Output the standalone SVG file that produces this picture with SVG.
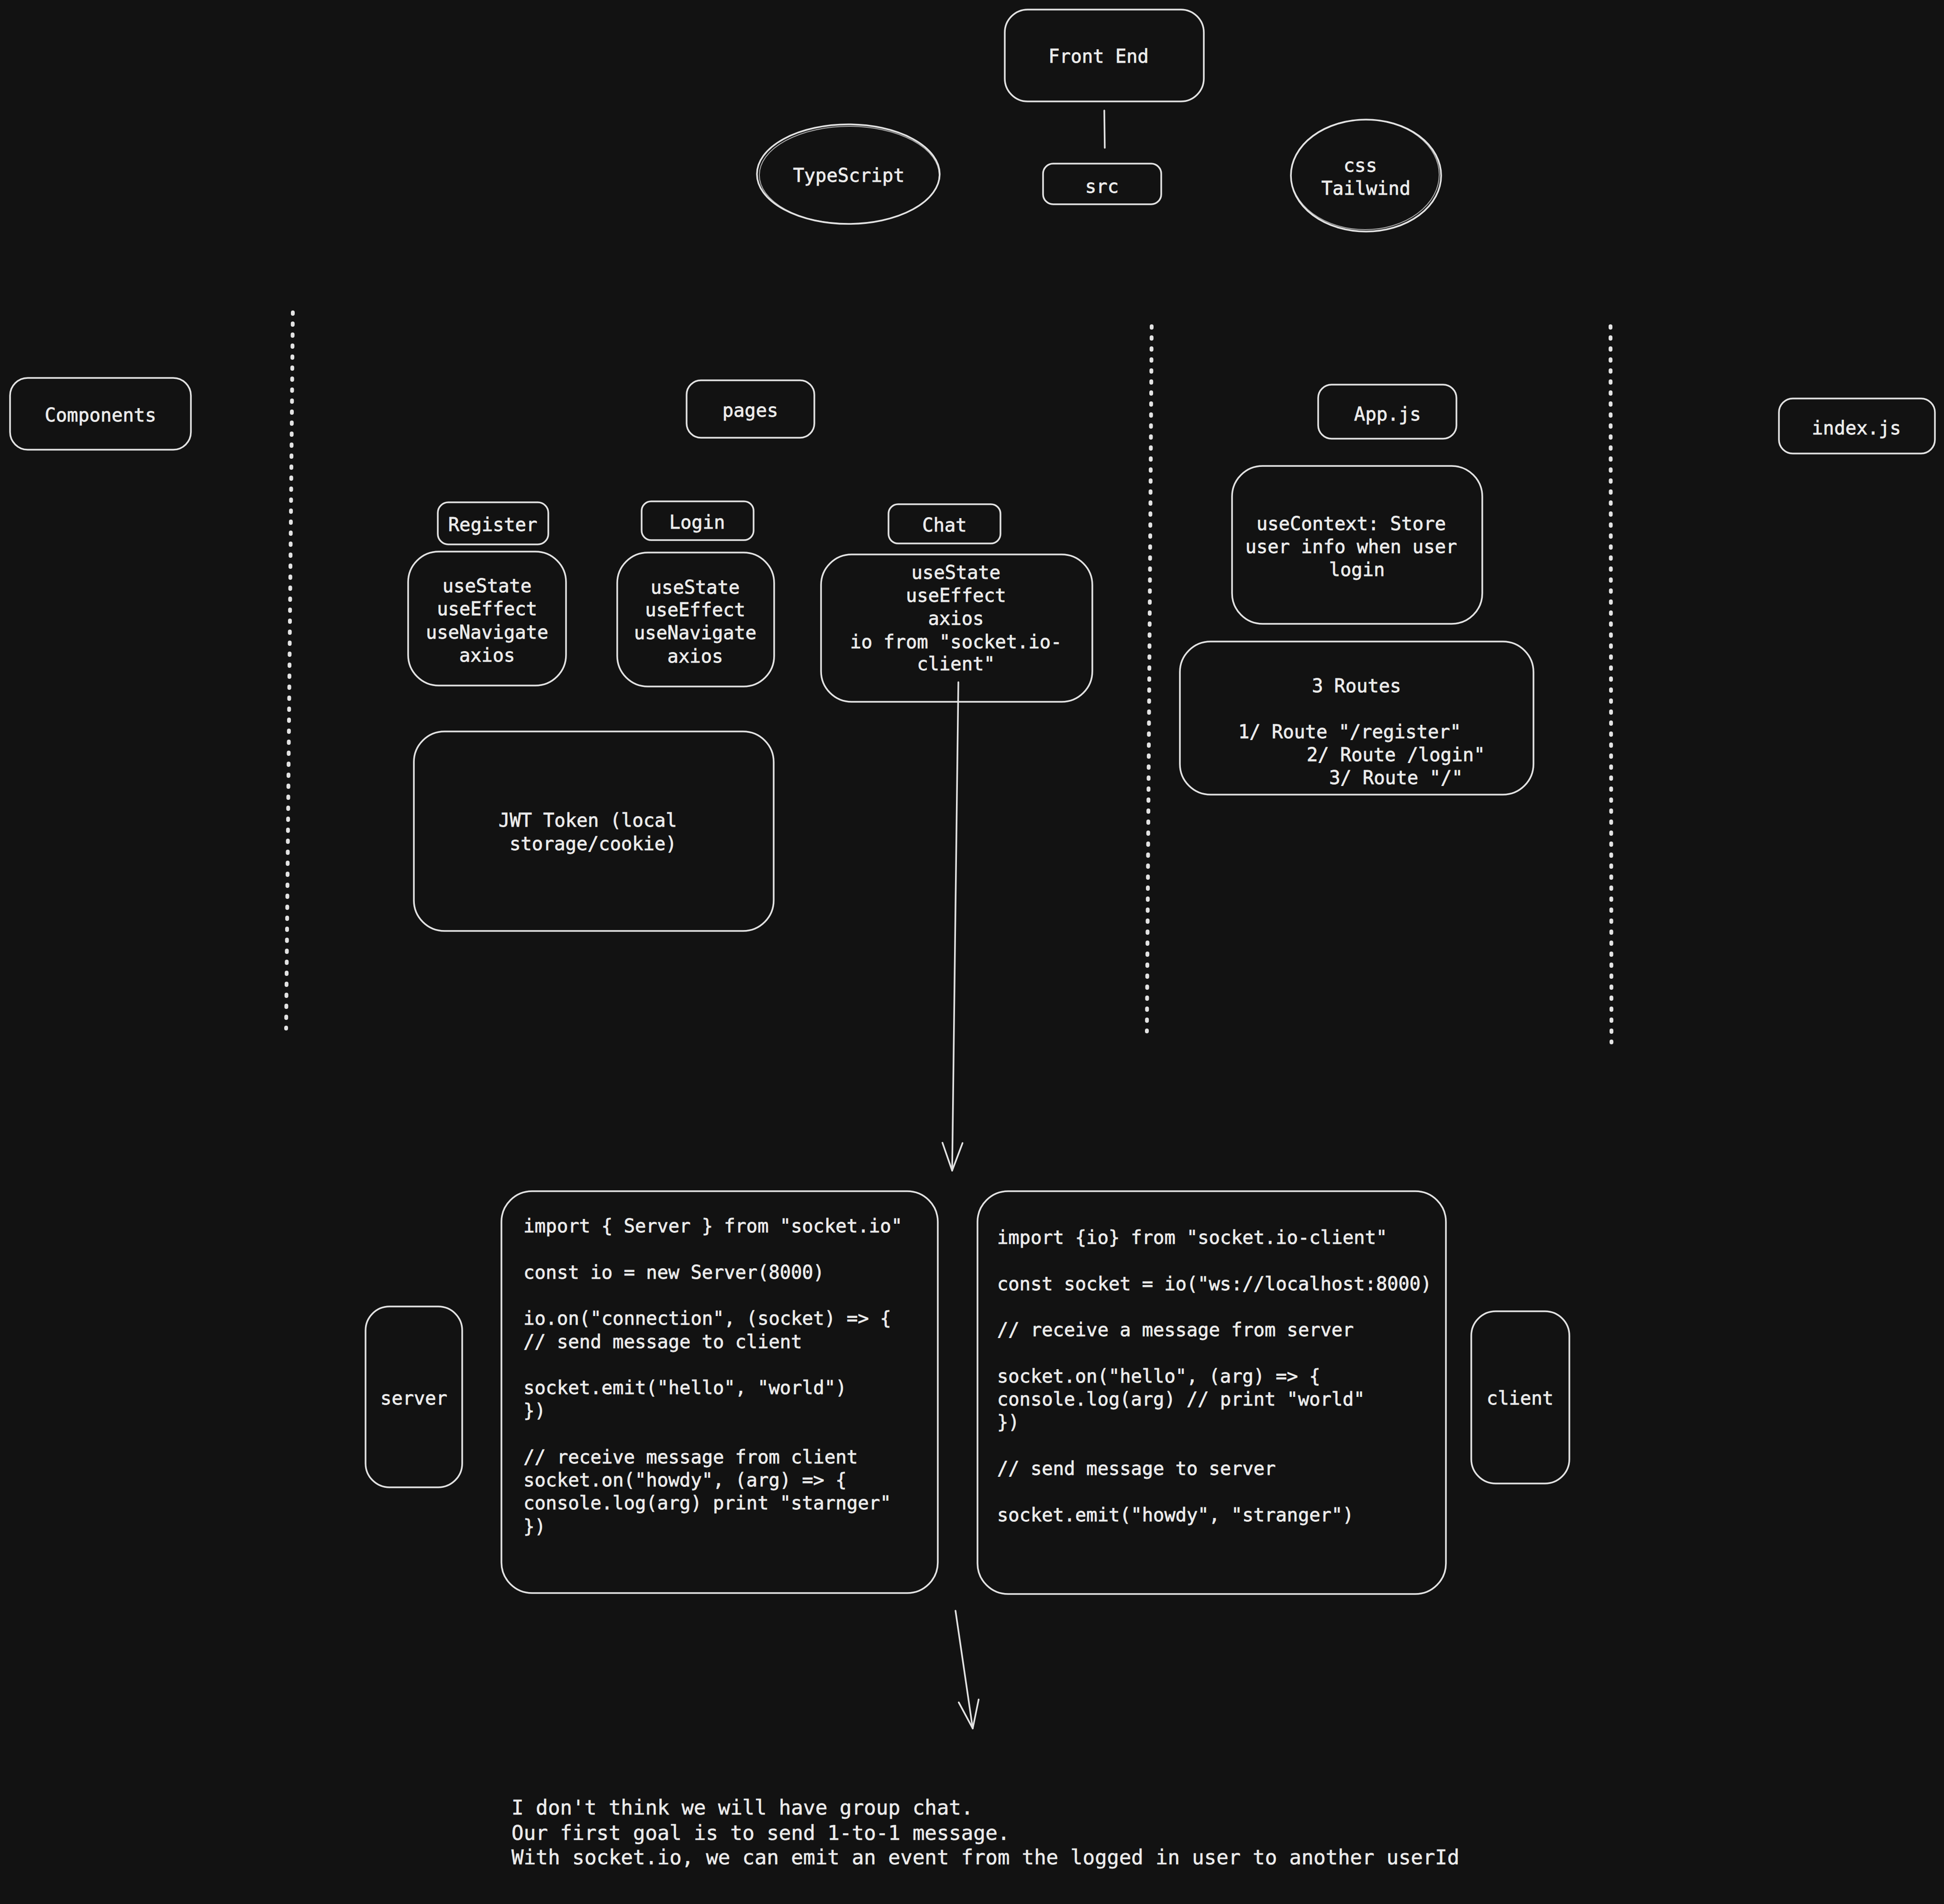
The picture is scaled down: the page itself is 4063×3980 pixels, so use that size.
<svg xmlns="http://www.w3.org/2000/svg" width="4063" height="3980" viewBox="0 0 4063 3980">
<defs>
<style>
.bg{fill:#121212}
.s{fill:none;stroke:#e3e3e3;stroke-width:3.5;stroke-linecap:round;stroke-linejoin:round}
.s2{fill:none;stroke:#e3e3e3;stroke-width:2;opacity:0.7}
.dot{fill:none;stroke:#e3e3e3;stroke-width:8;stroke-linecap:round;stroke-dasharray:3 20}
.t{font-family:"DejaVu Sans Mono","Liberation Mono",monospace;font-size:38.7px;fill:#ececec;stroke:#ececec;stroke-width:0.8px}
.m{text-anchor:middle}
.b{font-family:"DejaVu Sans Mono","Liberation Mono",monospace;font-size:42.2px;fill:#ececec;stroke:#ececec;stroke-width:0.6px}
</style>
<marker id="arr" markerUnits="userSpaceOnUse" markerWidth="90" markerHeight="70" viewBox="-75 -35 90 70" refX="0" refY="0" orient="auto">
<path d="M-58 -21 L0 0 L-58 21" fill="none" stroke="#e3e3e3" stroke-width="3.5" stroke-linecap="round" stroke-linejoin="round"/>
</marker>
</defs>
<rect class="bg" x="0" y="0" width="4063" height="3980"/>

<g id="dividers">
<line class="dot" x1="612" y1="653" x2="598" y2="2150"/>
<line class="dot" x1="2407" y1="682" x2="2397" y2="2156"/>
<line class="dot" x1="3366" y1="682" x2="3368" y2="2179"/>
</g>

<g id="connectors">
<line class="s" x1="2308" y1="231" x2="2309" y2="309"/>
<line class="s" x1="2003" y1="1426" x2="1990" y2="2447" marker-end="url(#arr)"/>
<line class="s" x1="1997" y1="3367" x2="2033" y2="3613" marker-end="url(#arr)"/>
</g>

<g id="front-end">
<rect class="s" x="2100" y="20" width="416" height="192" rx="48"/>
<text class="t m" x="2296" y="131">Front End</text>
</g>
<g id="typescript">
<ellipse class="s" cx="1773" cy="364" rx="191" ry="104"/>
<ellipse class="s2" cx="1775" cy="366" rx="188" ry="102"/>
<text class="t m" x="1774" y="380">TypeScript</text>
</g>
<g id="src">
<rect class="s" x="2180" y="342" width="247" height="85" rx="21"/>
<text class="t m" x="2303" y="403">src</text>
</g>
<g id="css-tailwind">
<ellipse class="s" cx="2855" cy="367" rx="157" ry="117"/>
<ellipse class="s2" cx="2853" cy="365" rx="155" ry="115"/>
<text class="t m" x="2843" y="359">css</text>
<text class="t m" x="2855" y="407">Tailwind</text>
</g>

<g id="components">
<rect class="s" x="21" y="790" width="378" height="150" rx="37"/>
<text class="t m" x="210" y="881">Components</text>
</g>
<g id="pages">
<rect class="s" x="1435" y="795" width="267" height="120" rx="30"/>
<text class="t m" x="1568" y="871">pages</text>
</g>
<g id="app-js">
<rect class="s" x="2755" y="804" width="289" height="113" rx="28"/>
<text class="t m" x="2900" y="879">App.js</text>
</g>
<g id="index-js">
<rect class="s" x="3718" y="833" width="326" height="115" rx="29"/>
<text class="t m" x="3880" y="908">index.js</text>
</g>

<g id="use-context">
<rect class="s" x="2575" y="974" width="523" height="330" rx="64"/>
<text class="t m" x="2824" y="1108">useContext: Store</text>
<text class="t m" x="2824" y="1156">user info when user</text>
<text class="t m" x="2836" y="1204">login</text>
</g>
<g id="routes">
<rect class="s" x="2466" y="1341" width="739" height="320" rx="64"/>
<text class="t" x="2742" y="1447">3 Routes</text>
<text class="t" x="2588" y="1543">1/ Route "/register"</text>
<text class="t" x="2731" y="1591">2/ Route /login"</text>
<text class="t" x="2778" y="1639">3/ Route "/"</text>
</g>

<g id="register">
<rect class="s" x="915" y="1050" width="231" height="88" rx="22"/>
<text class="t m" x="1030" y="1110">Register</text>
</g>
<g id="login">
<rect class="s" x="1341" y="1048" width="234" height="81" rx="20"/>
<text class="t m" x="1457" y="1105">Login</text>
</g>
<g id="chat">
<rect class="s" x="1857" y="1054" width="234" height="82" rx="20"/>
<text class="t m" x="1974" y="1111">Chat</text>
</g>

<g id="register-hooks">
<rect class="s" x="853" y="1153" width="330" height="280" rx="64"/>
<text class="t m" x="1018" y="1238">useState</text>
<text class="t m" x="1018" y="1286">useEffect</text>
<text class="t m" x="1018" y="1335">useNavigate</text>
<text class="t m" x="1018" y="1383">axios</text>
</g>
<g id="login-hooks">
<rect class="s" x="1290" y="1155" width="328" height="280" rx="64"/>
<text class="t m" x="1453" y="1241">useState</text>
<text class="t m" x="1453" y="1288">useEffect</text>
<text class="t m" x="1453" y="1336">useNavigate</text>
<text class="t m" x="1453" y="1385">axios</text>
</g>
<g id="chat-hooks">
<rect class="s" x="1716" y="1159" width="567" height="308" rx="64"/>
<text class="t m" x="1998" y="1210">useState</text>
<text class="t m" x="1998" y="1258">useEffect</text>
<text class="t m" x="1998" y="1306">axios</text>
<text class="t m" x="1998" y="1355">io from "socket.io-</text>
<text class="t m" x="1998" y="1401">client"</text>
</g>
<g id="jwt">
<rect class="s" x="865" y="1529" width="752" height="417" rx="64"/>
<text class="t" x="1042" y="1728">JWT Token (local</text>
<text class="t" x="1065" y="1777">storage/cookie)</text>
</g>

<g id="server">
<rect class="s" x="764" y="2731" width="202" height="378" rx="50"/>
<text class="t m" x="865" y="2936">server</text>
</g>
<g id="client">
<rect class="s" x="3075" y="2741" width="205" height="360" rx="51"/>
<text class="t m" x="3177" y="2936">client</text>
</g>

<g id="server-code">
<rect class="s" x="1048" y="2490" width="912" height="840" rx="64"/>
<text class="t" x="1094" y="2576">import { Server } from "socket.io"</text>
<text class="t" x="1094" y="2673">const io = new Server(8000)</text>
<text class="t" x="1094" y="2769">io.on("connection", (socket) =&gt; {</text>
<text class="t" x="1094" y="2818">// send message to client</text>
<text class="t" x="1094" y="2914">socket.emit("hello", "world")</text>
<text class="t" x="1094" y="2962">})</text>
<text class="t" x="1094" y="3059">// receive message from client</text>
<text class="t" x="1094" y="3107">socket.on("howdy", (arg) =&gt; {</text>
<text class="t" x="1094" y="3155">console.log(arg) print "starnger"</text>
<text class="t" x="1094" y="3204">})</text>
</g>
<g id="client-code">
<rect class="s" x="2043" y="2490" width="979" height="842" rx="64"/>
<text class="t" x="2084" y="2600">import {io} from "socket.io-client"</text>
<text class="t" x="2084" y="2697">const socket = io("ws://localhost:8000)</text>
<text class="t" x="2084" y="2793">// receive a message from server</text>
<text class="t" x="2084" y="2890">socket.on("hello", (arg) =&gt; {</text>
<text class="t" x="2084" y="2938">console.log(arg) // print "world"</text>
<text class="t" x="2084" y="2986">})</text>
<text class="t" x="2084" y="3083">// send message to server</text>
<text class="t" x="2084" y="3180">socket.emit("howdy", "stranger")</text>
</g>

<g id="note">
<text class="b" x="1069" y="3793">I don't think we will have group chat.</text>
<text class="b" x="1069" y="3846">Our first goal is to send 1-to-1 message.</text>
<text class="b" x="1069" y="3897">With socket.io, we can emit an event from the logged in user to another userId</text>
</g>
</svg>
